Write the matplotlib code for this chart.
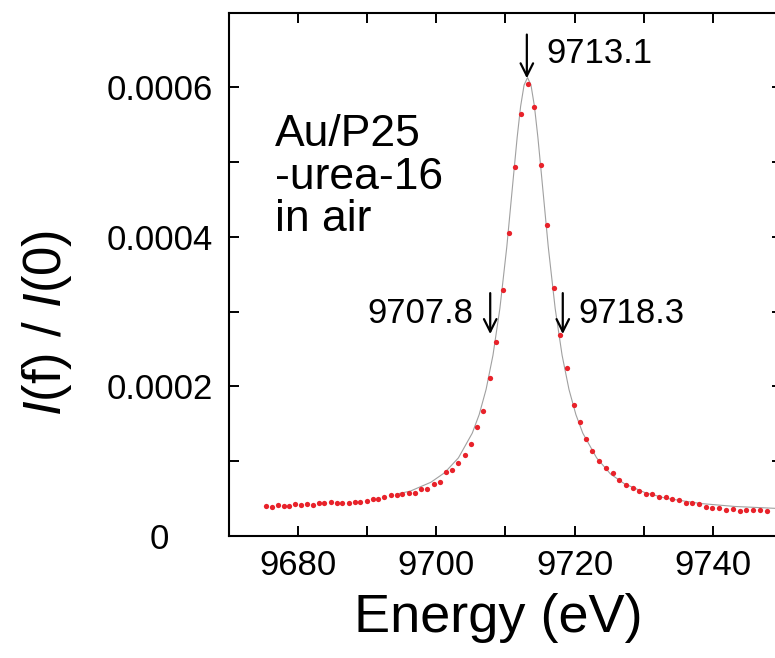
import numpy as np
import matplotlib
matplotlib.use('Agg')
import matplotlib.pyplot as plt
from matplotlib.ticker import MultipleLocator, FuncFormatter

plt.rcParams['font.family'] = ['Liberation Sans', 'DejaVu Sans']
plt.rcParams['mathtext.fontset'] = 'custom'
plt.rcParams['mathtext.rm'] = 'Liberation Sans'
plt.rcParams['mathtext.it'] = 'Liberation Sans:italic'

# measured points (red dots)
energy = [9675.3, 9676.2, 9677.1, 9677.9, 9678.7, 9679.6, 9680.4, 9681.3, 9682.1, 9683.0,
          9683.8, 9684.7, 9685.6, 9686.4, 9687.3, 9688.2, 9689.0, 9689.9, 9690.8, 9691.6,
          9692.5, 9693.4, 9694.3, 9695.1, 9696.0, 9696.9, 9697.8, 9698.7, 9699.6, 9700.5,
          9701.4, 9702.3, 9703.2, 9704.1, 9705.0, 9705.9, 9706.8,
          9707.8, 9708.7, 9709.6, 9710.5, 9711.4, 9712.3, 9713.2, 9714.2, 9715.1, 9716.0,
          9717.0, 9717.9, 9718.9, 9719.9,
          9720.8, 9721.6, 9722.6, 9723.6, 9724.5, 9725.5, 9726.4, 9727.4, 9728.4, 9729.3,
          9730.3, 9731.2, 9732.2, 9733.2, 9734.1, 9735.1, 9736.1, 9737.0, 9738.0, 9739.0,
          9739.9, 9740.9, 9741.9, 9742.9, 9743.9, 9744.8, 9745.9, 9746.9, 9747.9]
intensity = [3.98e-5, 3.85e-5, 4.16e-5, 4.02e-5, 4.02e-5, 4.25e-5, 4.21e-5, 4.25e-5, 4.16e-5, 4.38e-5,
             4.38e-5, 4.61e-5, 4.38e-5, 4.42e-5, 4.48e-5, 4.61e-5, 4.61e-5, 4.69e-5, 4.91e-5, 4.91e-5,
             5.27e-5, 5.44e-5, 5.54e-5, 5.62e-5, 5.71e-5, 5.75e-5, 6.24e-5, 6.33e-5, 6.95e-5, 7.26e-5,
             8.50e-5, 8.86e-5, 9.79e-5, 1.085e-4, 1.226e-4, 1.452e-4, 1.673e-4,
             2.116e-4, 2.590e-4, 3.289e-4, 4.054e-4, 4.940e-4, 5.648e-4, 6.042e-4, 5.737e-4, 4.963e-4, 4.161e-4,
             3.320e-4, 2.687e-4, 2.240e-4, 1.749e-4,
             1.518e-4, 1.292e-4, 1.138e-4, 1.005e-4, 9.16e-5, 8.46e-5, 7.53e-5, 6.77e-5, 6.47e-5, 5.98e-5,
             5.58e-5, 5.58e-5, 5.18e-5, 5.22e-5, 5.01e-5, 4.78e-5, 4.42e-5, 4.42e-5, 4.34e-5, 3.85e-5,
             3.81e-5, 3.68e-5, 3.45e-5, 3.63e-5, 3.36e-5, 3.45e-5, 3.45e-5, 3.49e-5, 3.32e-5]

# fitted curve (thin gray line)
fit_energy = [9694.2, 9696.2, 9699.2, 9701.2, 9703.2, 9705.2, 9706.2, 9707.2, 9708.2, 9709.2,
              9710.2, 9711.2, 9711.7, 9712.2, 9712.7, 9713.2, 9713.7, 9714.2, 9714.7, 9715.2,
              9716.2, 9717.2, 9718.2, 9719.2, 9720.2, 9721.2, 9723.2, 9725.2, 9727.2, 9730.2,
              9733.2, 9738.2, 9743.2, 9750.2]
fit_intensity = [5.6e-5, 5.99e-5, 7.18e-5, 8.46e-5, 1.045e-4, 1.375e-4, 1.623e-4, 1.959e-4, 2.418e-4, 3.043e-4,
                 3.867e-4, 4.846e-4, 5.33e-4, 5.745e-4, 6.03e-4, 6.13e-4, 6.03e-4, 5.745e-4, 5.33e-4, 4.846e-4,
                 3.867e-4, 3.043e-4, 2.418e-4, 1.959e-4, 1.623e-4, 1.375e-4, 1.045e-4, 8.3e-5, 7.0e-5, 5.8e-5,
                 5.05e-5, 4.35e-5, 3.95e-5, 3.65e-5]

# marked energies (peak and half-maximum points)
marks = [9707.8, 9713.1, 9718.3]
mark_tips = [2.70e-4, 6.12e-4, 2.70e-4]

fig = plt.figure(figsize=(7.75, 6.58), dpi=100)
ax = fig.add_axes([0.2955, 0.1854, 0.7133, 0.7956])

ax.plot(fit_energy, fit_intensity, color='#a0a0a0', lw=0.8, zorder=2)
ax.plot(energy, intensity, 'o', color='#e8222a', ms=3.8, mec='none', zorder=3)

ax.set_xlim(9670, 9750)
ax.set_ylim(0, 0.0007)

ax.xaxis.set_major_locator(MultipleLocator(20))
ax.xaxis.set_minor_locator(MultipleLocator(10))
ax.yaxis.set_major_locator(MultipleLocator(0.0002))
ax.yaxis.set_minor_locator(MultipleLocator(0.0001))
ax.yaxis.set_major_formatter(FuncFormatter(lambda v, p: '0' if abs(v) < 1e-12 else f'{v:.4f}'))

ax.tick_params(which='both', direction='in', top=True, right=True, length=7, width=1.4)
ax.tick_params(axis='x', labelsize=25, pad=9)
ax.tick_params(axis='y', labelsize=25, pad=50)
for lbl in ax.get_yticklabels():
    lbl.set_ha('center')
for s in ax.spines.values():
    s.set_linewidth(1.5)

ax.set_xlabel('Energy (eV)', fontsize=39)
ax.xaxis.set_label_coords(0.488, -0.109)
ax.set_ylabel(r'$I$(f) / $I$(0)', fontsize=38)
ax.yaxis.set_label_coords(-0.28, 0.407)

ax.text(0.0835, 0.806, 'Au/P25\n-urea-16\nin air', transform=ax.transAxes,
        fontsize=32, ha='left', va='top', linespacing=1.05)

# arrows with energy labels
arrow_kw = dict(arrowstyle='->,head_length=0.6,head_width=0.3', lw=1.6, color='black',
                mutation_scale=15, shrinkA=0, shrinkB=0)
label_off = [(-12, 14.5, 'right'), (14, 18, 'left'), (11.5, 14.5, 'left')]
arrow_len = [29.5, 31.5, 29.5]
for e, tip, (dx, dy, ha), ln in zip(marks, mark_tips, label_off, arrow_len):
    ax.annotate('', xy=(e, tip), xytext=(0, ln), textcoords='offset points', arrowprops=arrow_kw)
    ax.annotate(f'{e:.1f}', xy=(e, tip), xytext=(dx, dy), textcoords='offset points',
                fontsize=25, ha=ha, va='center')

plt.savefig('out.png', dpi=100)
